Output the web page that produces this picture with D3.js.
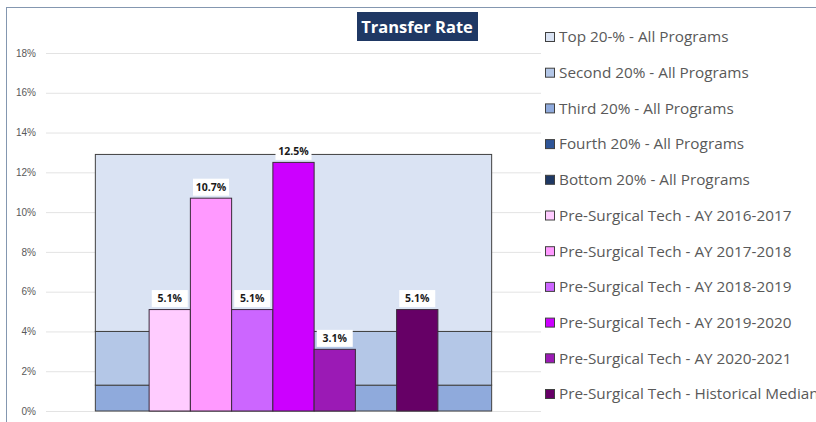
<!doctype html>
<html>
<head>
<meta charset="utf-8">
<script src="https://cdn.jsdelivr.net/npm/d3@7"></script>
<style>
  body { margin: 0; background: #fff; }
  svg { font-family: 'Open Sans', sans-serif; display: block; }
  .tick text { fill: #595959; font-size: 10px; }
  .legend text { fill: #595959; font-size: 15.3px; }
</style>
</head>
<body>
<svg id="chart" width="816" height="422"></svg>
<script>
// background quintile bands (segment heights, %), bottom of stack first
const bandNames = ["Bottom 20% - All Programs", "Fourth 20% - All Programs", "Third 20% - All Programs", "Second 20% - All Programs", "Top 20-% - All Programs"]
const bandValues = [0, 0, 1.3, 2.7, 8.9]
const bandColors = ["#1f3864", "#2f5597", "#8faadc", "#b4c7e7", "#dae3f3"]

// program series (one empty slot before the median, as in the original)
const seriesNames = ["Pre-Surgical Tech - AY 2016-2017", "Pre-Surgical Tech - AY 2017-2018", "Pre-Surgical Tech - AY 2018-2019", "Pre-Surgical Tech - AY 2019-2020", "Pre-Surgical Tech - AY 2020-2021", "", "Pre-Surgical Tech - Historical Median"]
const seriesValues = [5.1, 10.7, 5.1, 12.5, 3.1, null, 5.1]
const seriesColors = ["#ffccff", "#ff99ff", "#cc66ff", "#cc00ff", "#9b1ab5", "none", "#660066"]

const yTicks = [0, 2, 4, 6, 8, 10, 12, 14, 16, 18]

const svg = d3.select("#chart")
const plot = { left: 46, right: 541, top: 53, bottom: 411 }

const y = d3.scaleLinear().domain([0, 18]).range([plot.bottom, plot.top])
const xBack = d3.scaleBand().domain(["all"]).range([plot.left, plot.right]).paddingOuter(0.1245)
const xBar = d3.scaleBand().domain(d3.range(seriesValues.length)).range([plot.left, plot.right]).paddingInner(0).paddingOuter(2.5)

// outer frame
svg.append("rect")
  .attr("x", 6.5).attr("y", 7.5)
  .attr("width", 830).attr("height", 430)
  .attr("fill", "none").attr("stroke", "#8497b0").attr("stroke-width", 1)

// gridlines + y labels
const yAxis = d3.axisLeft(y)
  .tickValues(yTicks)
  .tickFormat(d => d + "%")
  .tickSize(-(plot.right - plot.left))
  .tickPadding(10)

const yg = svg.append("g")
  .attr("transform", "translate(" + plot.left + ",0)")
  .call(yAxis)
yg.select(".domain").remove()
yg.selectAll(".tick line").attr("stroke", "#e3e3e3").attr("stroke-width", 1)

// stacked background
let acc = 0
const stacked = bandValues.map((v, i) => { const s = { y0: acc, y1: acc + v, i: i }; acc += v; return s })

svg.selectAll(".band")
  .data(stacked.filter(d => d.y1 > d.y0))
  .enter().append("rect")
    .attr("class", "band")
    .attr("x", xBack("all"))
    .attr("width", xBack.bandwidth())
    .attr("y", d => y(d.y1))
    .attr("height", d => y(d.y0) - y(d.y1))
    .attr("fill", d => bandColors[d.i])
    .attr("stroke", "#404040")
    .attr("stroke-width", 1)

// program bars
const bars = seriesValues.map((v, i) => ({ v: v, i: i })).filter(d => d.v != null)

svg.selectAll(".bar")
  .data(bars)
  .enter().append("rect")
    .attr("class", "bar")
    .attr("x", d => xBar(d.i))
    .attr("width", xBar.bandwidth())
    .attr("y", d => y(d.v))
    .attr("height", d => y(0) - y(d.v))
    .attr("fill", d => seriesColors[d.i])
    .attr("stroke", "#3a2a3a")
    .attr("stroke-width", 1)

// data labels with white boxes
const lab = svg.selectAll(".lab")
  .data(bars)
  .enter().append("g")
    .attr("class", "lab")
    .attr("transform", d => "translate(" + (xBar(d.i) + xBar.bandwidth() / 2) + "," + (y(d.v) - 11) + ")")

lab.append("rect")
  .attr("x", -18).attr("y", -8.5)
  .attr("width", 36).attr("height", 17)
  .attr("fill", "#fff")

lab.append("text")
  .attr("text-anchor", "middle")
  .attr("dy", "0.35em")
  .attr("font-size", "10.5px")
  .attr("font-weight", "bold")
  .attr("fill", "#1a1a1a")
  .text(d => d.v.toFixed(1) + "%")

// title
const title = svg.append("g").attr("transform", "translate(417,27)")
title.append("rect")
  .attr("x", -60).attr("y", -15)
  .attr("width", 121).attr("height", 29)
  .attr("fill", "#1f3864")
title.append("text")
  .attr("text-anchor", "middle")
  .attr("dy", "0.35em")
  .attr("font-size", "16.5px")
  .attr("font-weight", "bold")
  .attr("fill", "#fff")
  .text("Transfer Rate")

// legend
const legendItems = []
for (let i = bandNames.length - 1; i >= 0; i--) legendItems.push({ name: bandNames[i], color: bandColors[i] })
seriesNames.forEach((n, i) => { if (n) legendItems.push({ name: n, color: seriesColors[i] }) })

const legend = svg.append("g").attr("class", "legend")
const row = legend.selectAll("g")
  .data(legendItems)
  .enter().append("g")
    .attr("transform", (d, i) => "translate(545," + (37 + i * 35.7) + ")")

row.append("rect")
  .attr("x", 0.5).attr("y", -4.5)
  .attr("width", 9).attr("height", 9)
  .attr("fill", d => d.color)
  .attr("stroke", "#404040")
  .attr("stroke-width", 1)

row.append("text")
  .attr("x", 14)
  .attr("dy", "0.35em")
  .text(d => d.name)
</script>
</body>
</html>
